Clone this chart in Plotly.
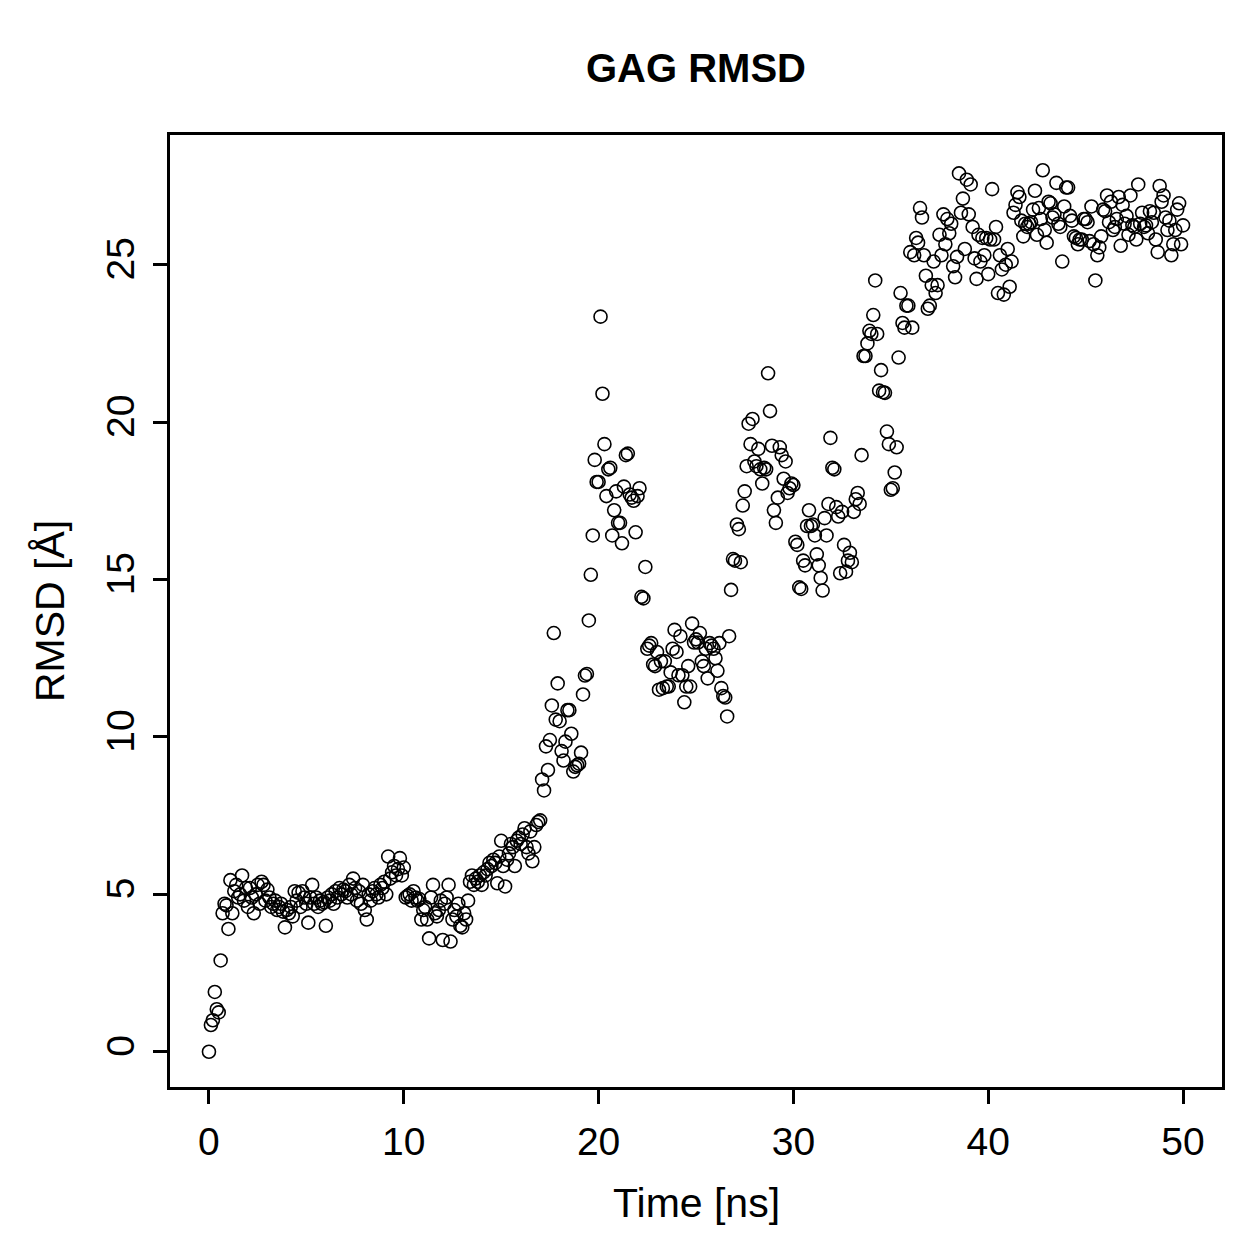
import plotly.graph_objects as go

# Time in ns (0.1 ns steps, 0..50)
time_ns = [round(i * 0.1, 1) for i in range(501)]

rmsd_00_09 = [0, 0.85, 1.0, 1.9, 1.35, 1.25, 2.9, 4.4, 4.7, 4.65,
              3.9, 5.45, 4.4, 5.1, 5.3, 4.9, 5.0, 5.6, 4.8, 5.2,
              4.6, 5.2, 4.9, 4.4, 5.0, 5.3, 4.7, 5.4, 5.3, 4.8,
              5.15, 4.9, 4.6, 4.7, 4.8, 4.5, 4.6, 4.7, 4.45, 3.95,
              4.5, 4.4, 4.6, 4.3, 5.1, 4.8, 5.05, 4.6, 5.1, 4.9,
              4.7, 4.1, 4.9, 5.3, 4.7, 4.9, 4.6, 4.8, 4.7, 4.75,
              4.0, 4.9, 4.8, 5.0, 4.7, 5.1, 4.9, 5.2, 5.0, 5.15,
              5.1, 4.9, 5.3, 5.0, 5.5, 5.2, 4.8, 5.1, 4.7, 5.3,
              4.5, 4.2, 5.0, 4.8, 5.1, 5.2, 5.0, 4.9, 5.3, 5.2,
              5.4, 5.0, 6.2, 5.5, 5.7, 5.9, 5.6, 5.8, 6.15, 5.6]
rmsd_10_19 = [5.85, 4.9, 4.95, 5.0, 4.8, 5.1, 4.9, 4.8, 4.85, 4.2,
              4.5, 4.6, 4.2, 3.6, 4.9, 5.3, 4.4, 4.3, 4.5, 4.8,
              3.55, 4.7, 4.9, 5.3, 3.5, 4.2, 4.5, 4.3, 4.7, 4.0,
              3.95, 4.4, 4.2, 4.8, 5.4, 5.6, 5.3, 5.5, 5.4, 5.6,
              5.3, 5.7, 5.6, 5.8, 6.0, 5.9, 6.1, 6.0, 5.35, 6.2,
              6.7, 5.9, 5.25, 6.1, 6.3, 6.6, 6.5, 5.9, 6.7, 6.8,
              6.6, 6.9, 7.1, 6.5, 6.3, 7.0, 6.05, 6.5, 7.2, 7.3,
              7.35, 8.65, 8.3, 9.7, 8.95, 9.9, 11.0, 13.3, 10.55, 11.7,
              10.5, 9.55, 9.25, 9.85, 10.85, 10.85, 10.1, 8.9, 9.05, 9.1,
              9.15, 9.5, 11.35, 11.95, 12.0, 13.7, 15.15, 16.4, 18.8, 18.1]
rmsd_20_29 = [18.1, 23.35, 20.9, 19.3, 17.65, 18.5, 18.55, 16.4, 17.2, 17.8,
              16.8, 16.8, 16.15, 17.95, 18.95, 19.0, 17.7, 17.6, 17.5, 16.5,
              17.65, 17.9, 14.45, 14.4, 15.4, 12.8, 12.9, 12.98, 12.3, 12.25,
              12.7, 11.5, 12.4, 11.55, 12.4, 11.6, 11.6, 12.05, 12.8, 13.4,
              12.7, 11.96, 13.2, 11.96, 11.1, 11.6, 12.25, 11.6, 13.6, 13.0,
              13.1, 13.0, 13.3, 12.4, 12.25, 12.8, 11.86, 12.98, 12.9, 12.8,
              12.5, 12.1, 12.98, 11.55, 11.3, 11.25, 10.65, 13.2, 14.67, 15.65,
              15.6, 16.75, 16.6, 15.55, 17.35, 17.8, 18.6, 19.95, 19.3, 20.1,
              18.75, 18.6, 19.15, 18.5, 18.05, 18.55, 18.5, 21.55, 20.35, 19.25,
              17.2, 16.8, 17.6, 19.2, 18.95, 18.2, 18.75, 17.75, 17.9, 18.05]
rmsd_30_39 = [18.0, 16.2, 16.1, 14.75, 14.7, 15.6, 15.45, 16.7, 17.2, 16.7,
              16.75, 16.4, 15.8, 15.45, 15.05, 14.65, 16.95, 16.4, 17.4, 19.5,
              18.55, 18.5, 17.3, 17.0, 15.2, 17.15, 16.1, 15.25, 15.6, 15.85,
              15.55, 17.15, 17.55, 17.75, 17.4, 18.95, 22.1, 22.1, 22.5, 22.9,
              22.8, 23.4, 24.5, 22.8, 21.0, 21.65, 20.95, 20.93, 19.7, 19.3,
              17.85, 17.9, 18.4, 19.2, 22.05, 24.1, 23.15, 23.0, 23.7, 23.7,
              25.4, 23.0, 25.3, 25.85, 25.7, 26.8, 26.5, 25.3, 24.65, 23.6,
              23.7, 24.35, 25.1, 24.1, 24.35, 25.95, 25.3, 26.6, 25.65, 26.45,
              26.0, 26.3, 24.95, 24.6, 25.25, 27.9, 26.65, 27.1, 25.5, 27.7,
              26.6, 27.55, 26.2, 25.2, 24.55, 25.95, 25.1, 25.85, 25.3, 25.85]
rmsd_40_50 = [24.7, 25.8, 27.4, 25.8, 26.2, 24.1, 25.3, 24.85, 24.05, 25.0,
              25.5, 24.3, 25.1, 26.65, 26.9, 27.3, 27.15, 26.4, 25.9, 26.3,
              26.2, 26.3, 26.35, 26.75, 27.35, 25.95, 26.8, 26.45, 28.0, 26.1,
              25.7, 27.0, 26.95, 26.5, 26.6, 27.6, 26.3, 26.2, 25.1, 26.85,
              27.45, 27.45, 26.55, 26.4, 25.9, 25.85, 25.65, 25.8, 25.8, 26.45,
              26.45, 26.35, 25.75, 26.85, 25.65, 24.5, 25.3, 25.55, 25.9, 26.75,
              26.7, 27.2, 26.35, 27.0, 26.1, 26.2, 26.45, 27.15, 25.6, 26.9,
              26.3, 26.55, 25.95, 27.2, 26.25, 26.2, 25.8, 27.55, 26.3, 26.65,
              26.2, 26.25, 26.0, 26.7, 26.35, 26.65, 25.8, 25.4, 27.5, 27.0,
              27.2, 26.5, 26.1, 26.4, 25.3, 25.65, 26.1, 26.75, 26.95, 25.65,
              26.25]

rmsd = rmsd_00_09 + rmsd_10_19 + rmsd_20_29 + rmsd_30_39 + rmsd_40_50
n = min(len(time_ns), len(rmsd))

x_ticks = [0, 10, 20, 30, 40, 50]
y_ticks = [0, 5, 10, 15, 20, 25]

FONT = "Liberation Sans, Arial, Helvetica, sans-serif"
TICK_SIZE = 39
LABEL_SIZE = 41

fig = go.Figure()
fig.add_trace(go.Scatter(
    x=time_ns[:n], y=rmsd[:n], mode="markers",
    marker=dict(symbol="circle-open", size=13, color="black",
                line=dict(width=1.6, color="black")),
    showlegend=False,
))

axis_common = dict(
    showgrid=False, zeroline=False, showline=True, mirror=True,
    linecolor="black", linewidth=2.5, ticks="outside", ticklen=14,
    tickwidth=2.5, tickcolor="black",
    tickfont=dict(family=FONT, size=TICK_SIZE, color="black"),
)

fig.update_layout(
    width=1259, height=1259,
    margin=dict(l=170, r=37, t=135, b=172),
    paper_bgcolor="white", plot_bgcolor="white",
    title=dict(text="<b>GAG RMSD</b>", x=696 / 1259, xanchor="center",
               y=1 - 68 / 1259, yanchor="middle",
               font=dict(family=FONT, size=40, color="black")),
    xaxis=dict(range=[-2, 52], tickvals=x_ticks, ticktext=[str(v) for v in x_ticks],
               ticklabelstandoff=4, **axis_common),
    yaxis=dict(range=[-1.12, 29.12], tickvals=y_ticks, ticktext=[str(v) for v in y_ticks],
               tickangle=-90, ticklabelstandoff=4, **axis_common),
    annotations=[
        dict(text="Time [ns]", xref="paper", yref="paper", x=0.5, y=0,
             xanchor="center", yanchor="middle", yshift=-116, showarrow=False,
             font=dict(family=FONT, size=LABEL_SIZE, color="black")),
        dict(text="RMSD [Å]", xref="paper", yref="paper", x=0, y=0.5,
             xanchor="center", yanchor="middle", xshift=-120, textangle=-90,
             showarrow=False,
             font=dict(family=FONT, size=LABEL_SIZE, color="black")),
    ],
)

fig.write_html("out.html")
